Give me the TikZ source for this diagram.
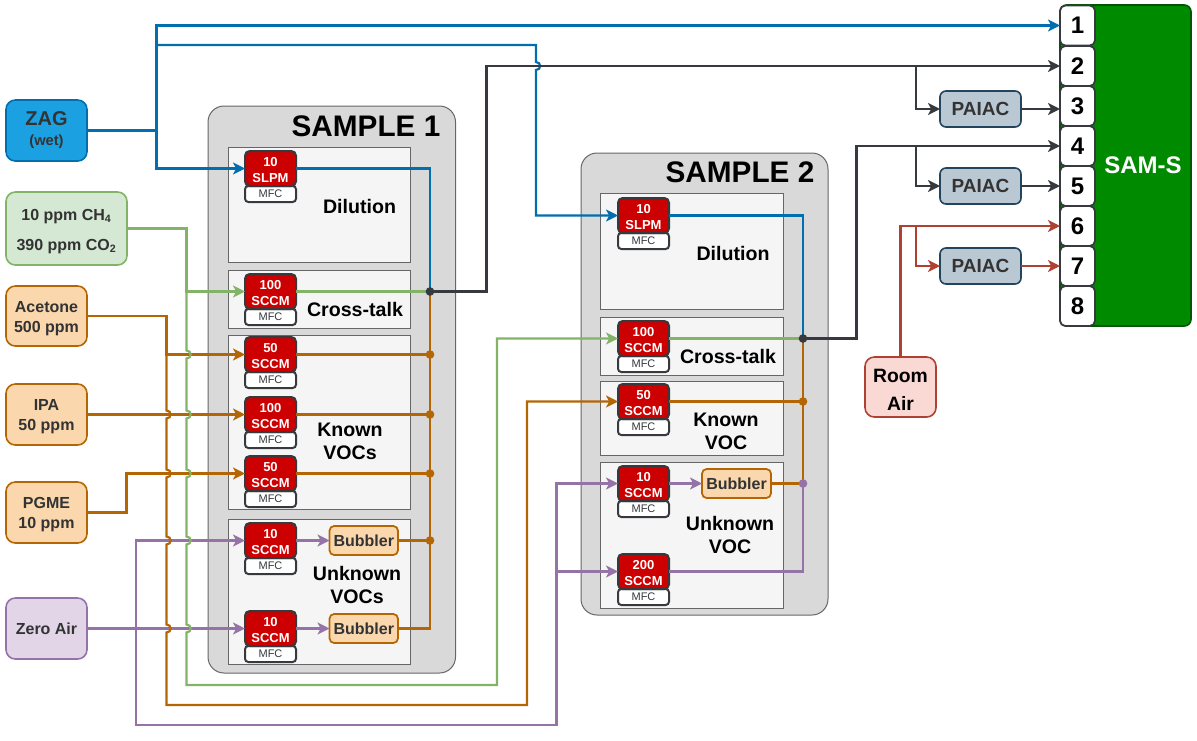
\documentclass[tikz,border=0pt]{standalone}
\usepackage{fontspec}
\setmainfont{Liberation Sans}
\usetikzlibrary{arrows.meta,calc}
\definecolor{cblue}{HTML}{006EAF}
\definecolor{cblueF}{HTML}{1BA1E2}
\definecolor{cgreen}{HTML}{82B366}
\definecolor{cgreenF}{HTML}{D5E8D4}
\definecolor{corange}{HTML}{B46504}
\definecolor{corangeF}{HTML}{FAD7AC}
\definecolor{cpurple}{HTML}{9673A6}
\definecolor{cpurpleF}{HTML}{E1D5E7}
\definecolor{cdark}{HTML}{36393D}
\definecolor{cred}{HTML}{AE4132}
\definecolor{credF}{HTML}{FAD9D5}
\definecolor{cmfc}{HTML}{CC0000}
\definecolor{cpai}{HTML}{BAC8D3}
\definecolor{cpaiL}{HTML}{23445D}
\definecolor{csam}{HTML}{008A00}
\definecolor{csamL}{HTML}{005700}
\definecolor{cgrey}{HTML}{666666}
\newcommand\fsz[2]{\fontsize{#1}{#2}\selectfont}
\newcommand\dn[1]{\rule{0pt}{#1}}
\newcommand\bx[7][]{%
  \pgfmathsetmacro\bxcx{(#3+#5)/2}\pgfmathsetmacro\bxcy{(#4+#6)/2}%
  \pgfmathsetmacro\bxw{(#5-#3)*0.75}\pgfmathsetmacro\bxh{(#6-#4)*0.75}%
  \node[#1,minimum width=\bxw pt,minimum height=\bxh pt] (#2) at (\bxcx,\bxcy) {#7};}
\newcommand\mfcunit[5]{% name, x, top, line1, line2
  \pgfmathsetmacro\mfxa{#2+51}\pgfmathsetmacro\mfya{#3+35}\pgfmathsetmacro\mfyb{#3+51}%
  \edef\mfxs{\mfxa}\edef\mfys{\mfya}%
  \bx[mfclow]{#1l}{#2}{\mfys}{\mfxs}{\mfyb}{MFC}%
  \bx[mfcred]{#1}{#2}{#3}{\mfxs}{\mfys}{\dn{9.6pt}#4\\#5}}
\newcommand\hopv[2]{-- (#1,#2-4) .. controls (#1+5.5,#2-4) and (#1+5.5,#2+4) .. (#1,#2+4)}
\tikzset{
  bbase/.style={inner sep=0pt,outer sep=0pt,align=center},
  sample/.style={bbase,draw=cgrey,fill=black!15,line width=0.75pt,rounded corners=12pt},
  sub/.style={bbase,draw=cgrey,fill=black!4,line width=0.75pt},
  mfcred/.style={bbase,draw=cdark,fill=cmfc,line width=1.5pt,rounded corners=3.5pt,text=white,font=\bfseries\fsz{9.75}{12}},
  mfclow/.style={bbase,draw=cdark,fill=white,line width=1.5pt,rounded corners=2.5pt,text=cdark,font=\fsz{8.25}{10}},
  src/.style={bbase,line width=1.2pt,rounded corners=7pt,text=black!80,font=\bfseries\fsz{12}{15}},
  bub/.style={bbase,draw=corange,fill=corangeF,line width=1.3pt,rounded corners=3.5pt,text=black!80,font=\bfseries\fsz{12}{15}},
  pai/.style={bbase,draw=cpaiL,fill=cpai,line width=1.2pt,rounded corners=4.5pt,text=black!80,font=\bfseries\fsz{14.25}{17}},
  port/.style={bbase,draw=cdark,fill=white,line width=1.3pt,rounded corners=4pt,text=black,font=\bfseries\fsz{18}{20}},
  lab/.style={inner sep=0pt,outer sep=0pt,align=center,font=\bfseries\fsz{14.7}{17.25},text=black},
  title/.style={inner sep=0pt,outer sep=0pt,font=\bfseries\fsz{22.3}{26},text=black},
  flow/.style={line width=1.65pt,-{Stealth[length=9pt,width=9pt,inset=2.4pt]}},
  pipe/.style={line width=1.65pt},
  jdot/.style={circle,inner sep=0pt,outer sep=0pt,minimum size=6.5pt},
}
\begin{document}
\begin{tikzpicture}[x=0.75pt,y=-0.75pt]
\useasboundingbox (0,0) rectangle (1197,740);
% sample frames
\bx[sample]{sa}{208}{106}{455.5}{673}{}
\bx[sample]{sb}{581}{153}{828}{615}{}
\node[title] (sat) at (366,126) {SAMPLE 1};
\node[title] (sbt) at (740,172) {SAMPLE 2};
% sub boxes
\bx[sub]{a1}{228}{147}{410}{262}{}
\bx[sub]{a2}{228}{270}{410}{328}{}
\bx[sub]{a3}{228}{335}{410}{509}{}
\bx[sub]{a4}{228}{519.5}{410}{664}{}
\bx[sub]{b1}{600.5}{193}{783}{309}{}
\bx[sub]{b2}{600.5}{317}{783}{375}{}
\bx[sub]{b3}{600.5}{381.5}{783}{455}{}
\bx[sub]{b4}{600.5}{462.5}{783}{608}{}
\node[lab] (la1) at (359.5,206) {Dilution};
\node[lab] (la2) at (355,309) {Cross-talk};
\node[lab] (la3) at (350,441) {Known\\VOCs};
\node[lab] (la4) at (357,585) {Unknown\\VOCs};
\node[lab] (lb1) at (733,253) {Dilution};
\node[lab] (lb2) at (728,356) {Cross-talk};
\node[lab] (lb3) at (726,431) {Known\\VOC};
\node[lab] (lb4) at (730,535) {Unknown\\VOC};
% MFCs
\mfcunit{ma}{245}{151}{10}{SLPM}
\mfcunit{mb}{245}{274}{100}{SCCM}
\mfcunit{mc}{245}{337}{50}{SCCM}
\mfcunit{md}{245}{397}{100}{SCCM}
\mfcunit{me}{245}{456}{50}{SCCM}
\mfcunit{mf}{245}{523}{10}{SCCM}
\mfcunit{mg}{245}{611}{10}{SCCM}
\mfcunit{na}{618}{198}{10}{SLPM}
\mfcunit{nb}{618}{321}{100}{SCCM}
\mfcunit{nc}{618}{384}{50}{SCCM}
\mfcunit{nd}{618}{466}{10}{SCCM}
\mfcunit{ne}{618}{554}{200}{SCCM}
% bubblers
\bx[bub]{ba}{329.5}{526}{398}{555}{Bubbler}
\bx[bub]{bb}{329.5}{614}{398}{643}{Bubbler}
\bx[bub]{bc}{702}{469}{771}{498}{Bubbler}
% sources
\bx[src,draw=cblue,fill=cblueF]{zag}{6}{100}{87}{161}{{\fsz{15}{19.5}ZAG}\\[0pt]{\fsz{11}{19.5}\dn{10pt}(wet)}}
\bx[src,draw=cgreen,fill=cgreenF,font=\bfseries\fsz{12}{22.5}]{gas}{6}{192}{127}{265}{\dn{13pt}10 ppm CH\textsubscript{4}\\390 ppm CO\textsubscript{2}}
\bx[src,draw=corange,fill=corangeF]{ace}{6}{286}{87}{346}{\dn{11.5pt}Acetone\\500 ppm}
\bx[src,draw=corange,fill=corangeF]{ipa}{6}{384}{87}{445}{\dn{11.5pt}IPA\\50 ppm}
\bx[src,draw=corange,fill=corangeF]{pgm}{6}{482}{87}{543}{\dn{11.5pt}PGME\\10 ppm}
\bx[src,draw=cpurple,fill=cpurpleF]{zer}{6}{598}{87}{659}{Zero Air}
\bx[src,draw=cred,fill=credF,text=black,font=\bfseries\fsz{14.5}{21}]{roo}{865}{357}{936}{417}{\dn{13.5pt}Room\\Air}
% SAM-S
\bx[bbase,draw=csamL,fill=csam,line width=1.2pt,rounded corners=5pt]{sam}{1060}{5}{1191}{326}{}
\node[inner sep=0pt,outer sep=0pt,text=white,font=\bfseries\fsz{18}{20}] (samt) at (1143,165) {SAM-S};
\bx[port]{p1}{1060}{5.5}{1095}{45.5}{1}
\bx[port]{p2}{1060}{46}{1095}{86}{2}
\bx[port]{p3}{1060}{86}{1095}{126}{3}
\bx[port]{p4}{1060}{126}{1095}{166}{4}
\bx[port]{p5}{1060}{166}{1095}{206}{5}
\bx[port]{p6}{1060}{206}{1095}{246}{6}
\bx[port]{p7}{1060}{246}{1095}{286}{7}
\bx[port]{p8}{1060}{286}{1095}{326}{8}
\bx[pai]{pa}{940}{91}{1021}{127}{PAIAC}
\bx[pai]{pb}{940}{168}{1021}{204}{PAIAC}
\bx[pai]{pc}{940}{248}{1021}{284}{PAIAC}
% junctions
\coordinate (ja) at (430,291.5);
\coordinate (jb) at (430,354.5);
\coordinate (jc) at (430,414.5);
\coordinate (jd) at (430,473.5);
\coordinate (je) at (430,540.5);
\coordinate (ka) at (803,338.5);
\coordinate (kb) at (803,401.5);
\coordinate (kc) at (803,483.5);
\coordinate (za) at (156.5,130.5);
\coordinate (zb) at (136,628.5);
% blue
\draw[flow,cblue] (zag.east) -- (za) |- (p1.west);
\draw[flow,cblue] (zag.east) -- (za) |- (ma.west);
\draw[flow,cblue] (zag.east) -- (za) -- (156.5,45) -- (536,45) \hopv{536}{66} |- (na.west);
% purple
\draw[flow,cpurple] (zer.east) -- (mg.west);
\draw[flow,cpurple] (zer.east) -- (zb) |- (mf.west);
\draw[flow,cpurple] (zb) -- (136,725) -- (556.5,725) |- (nd.west);
\draw[flow,cpurple] (556.5,571.5) -- (ne.west);
\draw[flow,cpurple] (mf.east) -- (ba.west);
\draw[flow,cpurple] (mg.east) -- (bb.west);
\draw[flow,cpurple] (nd.east) -- (bc.west);
% orange
\draw[flow,corange] (ace.east) -- (166.5,316) |- (mc.west);
\draw[flow,corange] (166.5,354.5) \hopv{166.5}{414.5} \hopv{166.5}{473.5} \hopv{166.5}{540.5} \hopv{166.5}{628.5} -- (166.5,705) -- (527,705) |- (nc.west);
\draw[flow,corange] (ipa.east) -- (md.west);
\draw[flow,corange] (pgm.east) -- (126.5,512.5) |- (me.west);
% green
\draw[flow,cgreen] (gas.east) -- (186.5,228.5) |- (mb.west);
\draw[flow,cgreen] (186.5,291.5) \hopv{186.5}{354.5} \hopv{186.5}{414.5} \hopv{186.5}{473.5} \hopv{186.5}{540.5} \hopv{186.5}{628.5} -- (186.5,685) -- (497,685) |- (nb.west);
% outlets sample 1
\draw[pipe,corange] (ja) -- (430,628.5) -- (bb.east);
\draw[pipe,corange] (mc.east) -- (jb);
\draw[pipe,corange] (md.east) -- (jc);
\draw[pipe,corange] (me.east) -- (jd);
\draw[pipe,corange] (ba.east) -- (je);
\draw[pipe,cblue] (ma.east) -| (ja);
\draw[pipe,cgreen] (mb.east) -- (ja);
% outlets sample 2
\draw[pipe,corange] (ka) -- (kc);
\draw[pipe,corange] (nc.east) -- (kb);
\draw[pipe,corange] (bc.east) -- (kc);
\draw[pipe,cblue] (na.east) -| (ka);
\draw[pipe,cgreen] (nb.east) -- (ka);
\draw[pipe,cpurple] (ne.east) -| (kc);
% grey to instrument
\draw[flow,cdark] (ja) -- (486.5,291.5) |- (p2.west);
\draw[flow,cdark] (916,66) |- (pa.west);
\draw[flow,cdark] (pa.east) -- (p3.west |- pa.east);
\draw[flow,cdark] (ka) -- (856.5,338.5) |- (p4.west);
\draw[flow,cdark] (916,146) |- (pb.west);
\draw[flow,cdark] (pb.east) -- (p5.west |- pb.east);
% red
\draw[flow,cred] (roo.north) |- (p6.west);
\draw[flow,cred] (916,226) |- (pc.west);
\draw[flow,cred] (pc.east) -- (p7.west |- pc.east);
% dots
\node[jdot,fill=cdark] (dja) at (ja) {};
\node[jdot,fill=corange] (djb) at (jb) {};
\node[jdot,fill=corange] (djc) at (jc) {};
\node[jdot,fill=corange] (djd) at (jd) {};
\node[jdot,fill=corange] (dje) at (je) {};
\node[jdot,fill=cdark] (dka) at (ka) {};
\node[jdot,fill=corange] (dkb) at (kb) {};
\node[jdot,fill=cpurple] (dkc) at (kc) {};
\end{tikzpicture}
\end{document}
